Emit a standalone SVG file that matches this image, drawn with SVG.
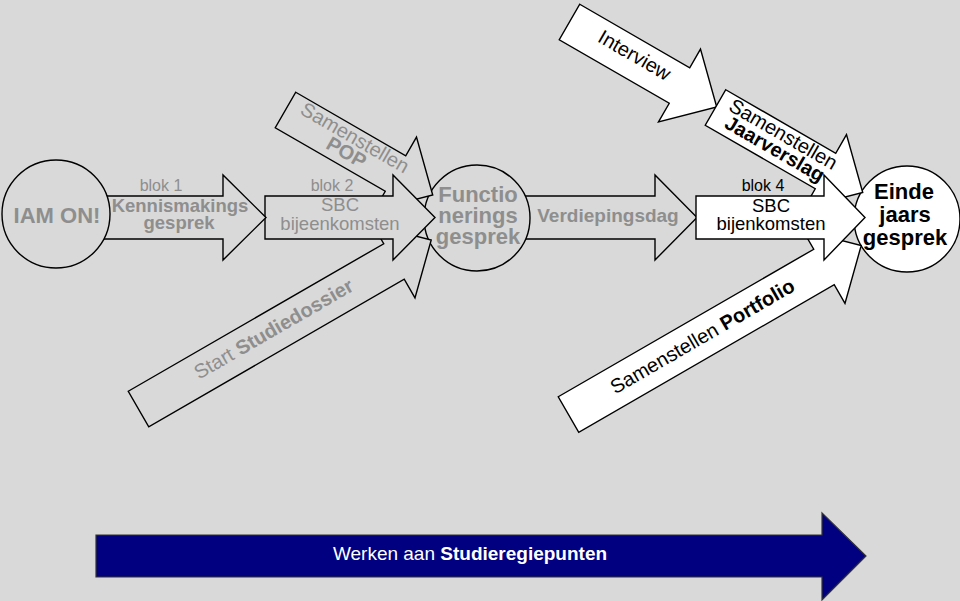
<svg xmlns="http://www.w3.org/2000/svg" width="960" height="601" viewBox="0 0 960 601">
<defs>
<style>
.bg{fill:#d9d9d9}
.ag{fill:#d9d9d9;stroke:#000;stroke-width:1.4;stroke-linejoin:miter}
.aw{fill:#fff;stroke:#000;stroke-width:1.4;stroke-linejoin:miter}
.t{font-family:"Liberation Sans",Arial,sans-serif;text-anchor:middle}
.g{fill:#8e8e8e}
.k{fill:#000}
.b{font-weight:bold}
</style>
<polygon id="shortArrow" points="0,-20.5 127,-20.5 127,-42 170,0 127,42 127,20.5 0,20.5"/>
<polygon id="longArrow" points="0,-20.5 295,-20.5 295,-42 338,0 295,42 295,20.5 0,20.5"/>
</defs>
<rect class="bg" x="0" y="0" width="960" height="601"/>

<g id="verdiepingsdag">
<polygon class="ag" points="500,196 655,196 655,175 697,217.5 655,260 655,239 500,239"/>
<text class="t g b" x="608" y="222" font-size="19">Verdiepingsdag</text>
</g>

<g id="functioneringsgesprek">
<circle class="ag" cx="477" cy="218" r="53"/>
<text class="t g b" font-size="22"><tspan x="478" y="202">Functio</tspan><tspan x="478" y="223">nerings</tspan><tspan x="478" y="244">gesprek</tspan></text>
</g>

<g id="samenstellen-pop" transform="translate(285.5,110) rotate(30)">
<use href="#shortArrow" class="ag"/>
<text class="t g" x="74" y="-4" font-size="20">Samenstellen</text>
<text class="t g b" x="74" y="13" font-size="20">POP</text>
</g>

<g id="start-studiedossier" transform="translate(138.5,409) rotate(-30)">
<use href="#longArrow" class="ag"/>
<text class="t g" x="157" y="5" font-size="20">Start <tspan class="b">Studiedossier</tspan></text>
</g>

<g id="blok2">
<polygon class="ag" points="265,196 393,196 393,175 435,217.5 393,260 393,239 265,239"/>
<text class="t g" x="332" y="191" font-size="16">blok 2</text>
<text class="t g" x="340" y="211" font-size="18.5">SBC</text>
<text class="t g" x="340" y="230" font-size="18.5">bijeenkomsten</text>
</g>

<g id="blok1">
<polygon class="ag" points="100,196 223,196 223,175 266,217.5 223,260 223,239 100,239"/>
<text class="t g" x="161" y="191" font-size="16">blok 1</text>
<text class="t g b" x="180" y="212" font-size="18.5">Kennismakings</text>
<text class="t g b" x="179" y="229" font-size="18.5">gesprek</text>
</g>

<g id="iam-on">
<circle class="ag" cx="56" cy="214" r="54"/>
<text class="t g b" x="57" y="223" font-size="22">IAM ON!</text>
</g>

<g id="einde-jaarsgesprek">
<circle class="aw" cx="907" cy="219" r="53"/>
<text class="t k b" font-size="22"><tspan x="904" y="199">Einde</tspan><tspan x="905" y="222">jaars</tspan><tspan x="905" y="245">gesprek</tspan></text>
</g>

<g id="interview" transform="translate(569.5,22) rotate(30)">
<use href="#shortArrow" class="aw"/>
<text class="t k" x="73" y="3" font-size="20">Interview</text>
</g>

<g id="samenstellen-jaarverslag" transform="translate(715.5,107.5) rotate(30)">
<use href="#shortArrow" class="aw"/>
<text class="t k" x="72" y="-4" font-size="20">Samenstellen</text>
<text class="t k b" x="72" y="13" font-size="20">Jaarverslag</text>
</g>

<g id="samenstellen-portfolio" transform="translate(568.5,414.5) rotate(-30)">
<use href="#longArrow" class="aw"/>
<text class="t k" x="155" y="6" font-size="20">Samenstellen <tspan class="b">Portfolio</tspan></text>
</g>

<g id="blok4">
<polygon class="aw" points="696,196 824,196 824,175 865,217.5 824,260 824,239 696,239"/>
<text class="t k" x="763" y="191" font-size="16">blok 4</text>
<text class="t k" x="771" y="212" font-size="18.5">SBC</text>
<text class="t k" x="771" y="230" font-size="18.5">bijenkomsten</text>
</g>

<g id="werken-aan-studieregiepunten">
<polygon points="96,535 822,535 822,513 866,556 822,600 822,577 96,577" fill="#000080" stroke="#333" stroke-width="1.2"/>
<text class="t" x="470" y="560" font-size="19" fill="#fff">Werken aan <tspan class="b">Studieregiepunten</tspan></text>
</g>

<g id="connectors"/>
</svg>
